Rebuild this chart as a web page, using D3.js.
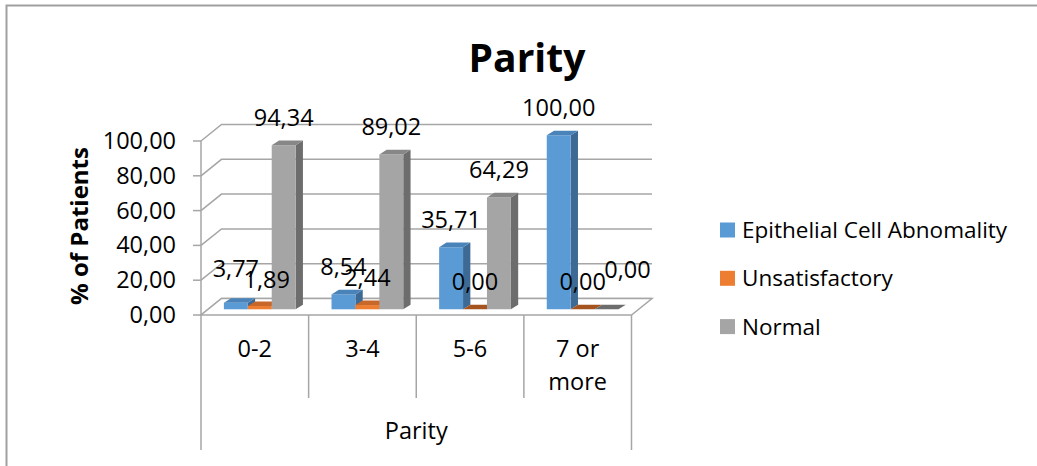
<!DOCTYPE html>
<html>
<head>
<meta charset="utf-8">
<script src="https://cdn.jsdelivr.net/npm/d3@7"></script>
<style>
  body { margin: 0; background: #fff; }
  text { font-family: "Open Sans", "Noto Sans", sans-serif; }
</style>
</head>
<body>
<svg id="chart" width="1037" height="466"></svg>
<script>
// ---- data ----
const categories = ["0-2", "3-4", "5-6", "7 or more"];
const seriesNames = ["Epithelial Cell Abnomality", "Unsatisfactory", "Normal"];
const epithelial = [3.77, 8.54, 35.71, 100.00];
const unsatisfactory = [1.89, 2.44, 0.00, 0.00];
const normal = [94.34, 89.02, 64.29, 0.00];
const yTicks = [0, 20, 40, 60, 80, 100];
const chartTitle = "Parity";
const xTitle = "Parity";
const yTitle = "% of Patients";

const seriesValues = [epithelial, unsatisfactory, normal];

// ---- layout & style ----
const W = 1037, H = 466;
const plot = { x0: 201, x1: 631.5, yBase: 315, yTop: 141 };
const depth = { dx: 20.5, dy: -16.5 };      // front plane -> back wall
const barShift = { dx: 7.1, dy: -5.7 };     // front plane -> bar front faces
const barDepth = { dx: 7.3, dy: -4.6 };     // bar front face -> bar back face
const gridColor = "#A6A6A6";
const frontFill = ["#5B9BD5", "#ED7D31", "#A5A5A5"];
const topFill = ["#4A83B9", "#C7672A", "#878787"];
const sideFill = ["#3D6A94", "#A5531F", "#6D6D6D"];
const fontSize = 23.5;
// small hand offsets for labels that Excel pushed aside
const labelNudge = { "0-2|0": [0, -7], "0-2|1": [7, 1], "7 or more|2": [21, -12] };

const svg = d3.select("#chart");
svg.append("rect").attr("width", W).attr("height", H).attr("fill", "#fff");

// chart-area frame (top and left edges)
svg.append("path")
  .attr("d", `M6.5,${H} V5.5 H${W}`)
  .attr("fill", "none").attr("stroke", "#A0A0A0").attr("stroke-width", 2);

const x = d3.scaleBand().domain(categories).range([plot.x0, plot.x1]);
const xs = d3.scaleBand().domain(seriesNames).range([0, x.bandwidth()])
  .paddingInner(0).paddingOuter(0.75).align(0.44);
const y = d3.scaleLinear().domain([0, 100]).range([plot.yBase, plot.yTop]);
const fmt = v => d3.format(".2f")(v).replace(".", ",");
const poly = pts => "M" + pts.map(p => p.join(",")).join("L") + "Z";

// ---- walls ----
const walls = svg.append("g").attr("fill", "none").attr("stroke", gridColor).attr("stroke-width", 1.5);
yTicks.forEach(t => {
  const yf = y(t);
  // left wall diagonal + back wall gridline
  walls.append("path")
    .attr("d", `M${plot.x0},${yf} L${plot.x0 + depth.dx},${yf + depth.dy} H${plot.x1 + depth.dx}`);
  // tick mark
  walls.append("line").attr("x1", plot.x0 - 8).attr("x2", plot.x0).attr("y1", yf).attr("y2", yf);
});

// floor
svg.append("path")
  .attr("d", poly([[plot.x0, plot.yBase], [plot.x1, plot.yBase],
                   [plot.x1 + depth.dx, plot.yBase + depth.dy], [plot.x0 + depth.dx, plot.yBase + depth.dy]]))
  .attr("fill", "#fff").attr("stroke", gridColor).attr("stroke-width", 1.5);

// value axis line and category dividers
const axisG = svg.append("g").attr("stroke", gridColor).attr("stroke-width", 1.5);
axisG.append("line").attr("x1", plot.x0).attr("x2", plot.x0).attr("y1", y(100)).attr("y2", 450);
axisG.append("line").attr("x1", plot.x1).attr("x2", plot.x1).attr("y1", plot.yBase).attr("y2", 450);
categories.slice(1).forEach(c => {
  axisG.append("line").attr("x1", x(c)).attr("x2", x(c)).attr("y1", plot.yBase).attr("y2", 398);
});

// ---- bars ----
const bars = svg.append("g");
const labelData = [];
categories.forEach((c, i) => {
  seriesNames.forEach((s, j) => {
    const v = seriesValues[j][i];
    const bx = x(c) + xs(s) + barShift.dx;
    const bw = xs.bandwidth();
    const yb = y(0) + barShift.dy;
    const yt = y(v) + barShift.dy;
    const d = barDepth;
    if (v > 0) {
      bars.append("path").attr("fill", sideFill[j])
        .attr("d", poly([[bx + bw, yb], [bx + bw + d.dx, yb + d.dy], [bx + bw + d.dx, yt + d.dy], [bx + bw, yt]]));
      bars.append("path").attr("fill", frontFill[j])
        .attr("d", poly([[bx, yb], [bx + bw, yb], [bx + bw, yt], [bx, yt]]));
    }
    bars.append("path").attr("fill", v > 0 ? topFill[j] : sideFill[j])
      .attr("d", poly([[bx, yt], [bx + bw, yt], [bx + bw + d.dx, yt + d.dy], [bx + d.dx, yt + d.dy]]));
    const n = labelNudge[c + "|" + j] || [0, 0];
    labelData.push({ v, x: bx + bw / 2 + n[0], y: yt + d.dy - 14.5 + n[1] });
  });
});

// value labels
svg.append("g").selectAll("text").data(labelData).join("text")
  .attr("x", d => d.x).attr("y", d => d.y)
  .attr("text-anchor", "middle").attr("font-size", fontSize).attr("fill", "#000")
  .text(d => fmt(d.v));

// ---- value axis labels ----
svg.append("g").selectAll("text").data(yTicks).join("text")
  .attr("x", 176).attr("y", t => y(t) + 8)
  .attr("text-anchor", "end").attr("font-size", fontSize).attr("fill", "#000")
  .text(t => fmt(t));

// ---- category labels (wrapped to the band) ----
const catG = svg.append("g");
categories.forEach(c => {
  const cx = x(c) + x.bandwidth() / 2;
  const t = catG.append("text")
    .attr("x", cx).attr("y", 357)
    .attr("text-anchor", "middle").attr("font-size", fontSize).attr("fill", "#000");
  const words = c.split(" ");
  let line = [];
  let ts = t.append("tspan").attr("x", cx).attr("dy", 0);
  words.forEach(w => {
    line.push(w);
    ts.text(line.join(" "));
    if (ts.node().getComputedTextLength() > x.bandwidth() - 45 && line.length > 1) {
      line.pop();
      ts.text(line.join(" "));
      line = [w];
      ts = t.append("tspan").attr("x", cx).attr("dy", 33).text(w);
    }
  });
});

// axis titles
svg.append("text").attr("x", (plot.x0 + plot.x1) / 2).attr("y", 439)
  .attr("text-anchor", "middle").attr("font-size", fontSize).attr("fill", "#000").text(xTitle);
svg.append("text").attr("transform", "translate(78,226) rotate(-90)")
  .attr("text-anchor", "middle").attr("dominant-baseline", "central")
  .attr("font-size", 24).attr("font-weight", "bold").attr("fill", "#000").text(yTitle);

// chart title
svg.append("text").attr("x", 527).attr("y", 72)
  .attr("text-anchor", "middle").attr("font-size", 39).attr("font-weight", "bold")
  .attr("fill", "#000").text(chartTitle);

// ---- legend ----
const legend = svg.append("g").selectAll("g").data(seriesNames).join("g")
  .attr("transform", (d, i) => `translate(720,${230 + i * 48.3})`);
legend.append("rect").attr("x", 0).attr("y", -7.5).attr("width", 15).attr("height", 15)
  .attr("fill", (d, i) => frontFill[i]);
legend.append("text").attr("x", 22).attr("y", 8)
  .attr("font-size", 22.5).attr("fill", "#000").text(d => d);
</script>
</body>
</html>
